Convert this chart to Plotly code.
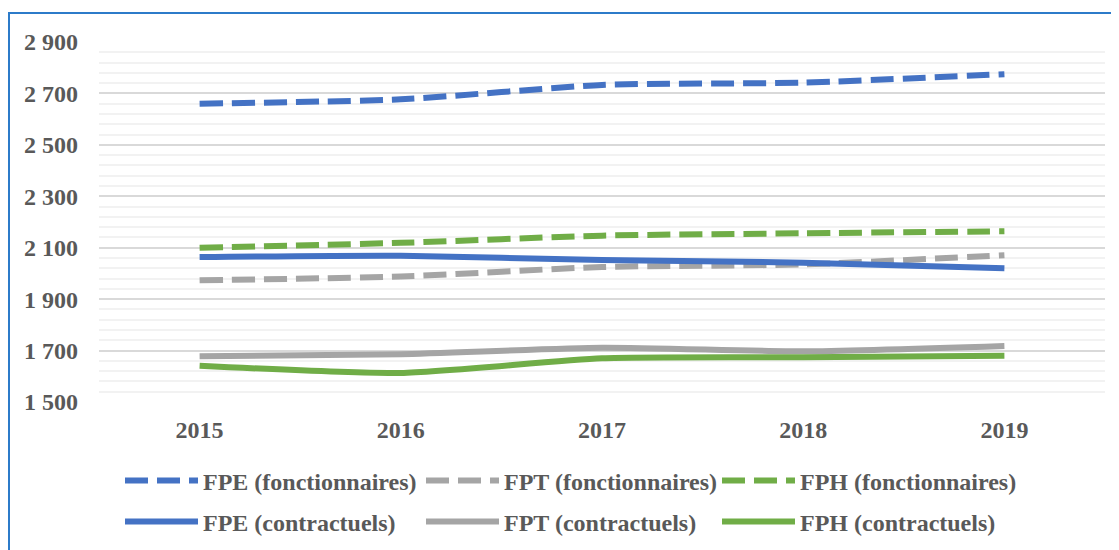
import plotly.graph_objects as go

years = ["2015", "2016", "2017", "2018", "2019"]

fpe_fonct = [2660, 2677, 2733, 2742, 2775]
fpt_fonct = [1973, 1988, 2025, 2035, 2071]
fph_fonct = [2100, 2119, 2147, 2156, 2164]
fpe_contr = [2064, 2069, 2052, 2042, 2020]
fpt_contr = [1678, 1686, 1711, 1697, 1718]
fph_contr = [1641, 1613, 1670, 1674, 1680]

BLUE = "#4472C4"
GRAY = "#A5A5A5"
GREEN = "#70AD47"
TEXT = "#595959"

# name, values, colour, dash
series = [
    ("FPE (fonctionnaires)", fpe_fonct, BLUE, "23px,9px"),
    ("FPT (fonctionnaires)", fpt_fonct, GRAY, "23px,9px"),
    ("FPH (fonctionnaires)", fph_fonct, GREEN, "23px,9px"),
    ("FPE (contractuels)", fpe_contr, BLUE, "solid"),
    ("FPT (contractuels)", fpt_contr, GRAY, "solid"),
    ("FPH (contractuels)", fph_contr, GREEN, "solid"),
]

# the page body adds an 8px margin, so the figure is sized to fit the window
W, H = 1111, 542
L, T, PW, PH = 91, 34, 1006, 360


def px_x(x):
    return (x - L) / PW


def px_y(y):
    return (T + PH - y) / PH


font = dict(family="Liberation Serif", size=24, color=TEXT, weight="bold")

# one small legend per entry so the 3x2 grid lines up like the original
legend_cols = [112, 413, 709]
legend_rows = [473, 514]

fig = go.Figure()
legends = {}
for i, (name, vals, color, dash) in enumerate(series):
    key = "legend" if i == 0 else f"legend{i + 1}"
    fig.add_trace(go.Scatter(
        x=years, y=vals, name=name, mode="lines", legend=key,
        line=dict(color=color, width=6, dash=dash, shape="spline", smoothing=0.6),
    ))
    legends[key] = dict(
        orientation="h", x=px_x(legend_cols[i % 3]), y=px_y(legend_rows[i // 3]),
        xanchor="left", yanchor="middle", itemwidth=73, font=font,
        bgcolor="rgba(0,0,0,0)",
    )

fig.update_layout(
    width=W, height=H,
    margin=dict(l=L, r=W - L - PW, t=T, b=H - T - PH, autoexpand=False),
    paper_bgcolor="white", plot_bgcolor="white",
    font=font,
    separators=", ",
    showlegend=True,
    xaxis=dict(range=[-0.5, 4.5], showgrid=False, showline=False, ticks="",
               tickfont=font, ticklabelstandoff=11, automargin=False),
    yaxis=dict(
        range=[1500, 2900], dtick=200, tick0=1500, tickformat=",",
        showgrid=True, gridcolor="#D9D9D9", gridwidth=1.5,
        zeroline=False, showline=False, ticks="", tickfont=font,
        ticklabelstandoff=20, automargin=False,
        minor=dict(dtick=40, tick0=1500, showgrid=True, gridcolor="#F2F2F2", gridwidth=1.5),
    ),
    shapes=[dict(
        type="rect", xref="paper", yref="paper",
        x0=px_x(1), x1=px_x(1108), y0=px_y(600), y1=px_y(5),
        line=dict(color="#2C7BC9", width=2), layer="above",
    )],
    **legends,
)

fig.write_html("out.html")
